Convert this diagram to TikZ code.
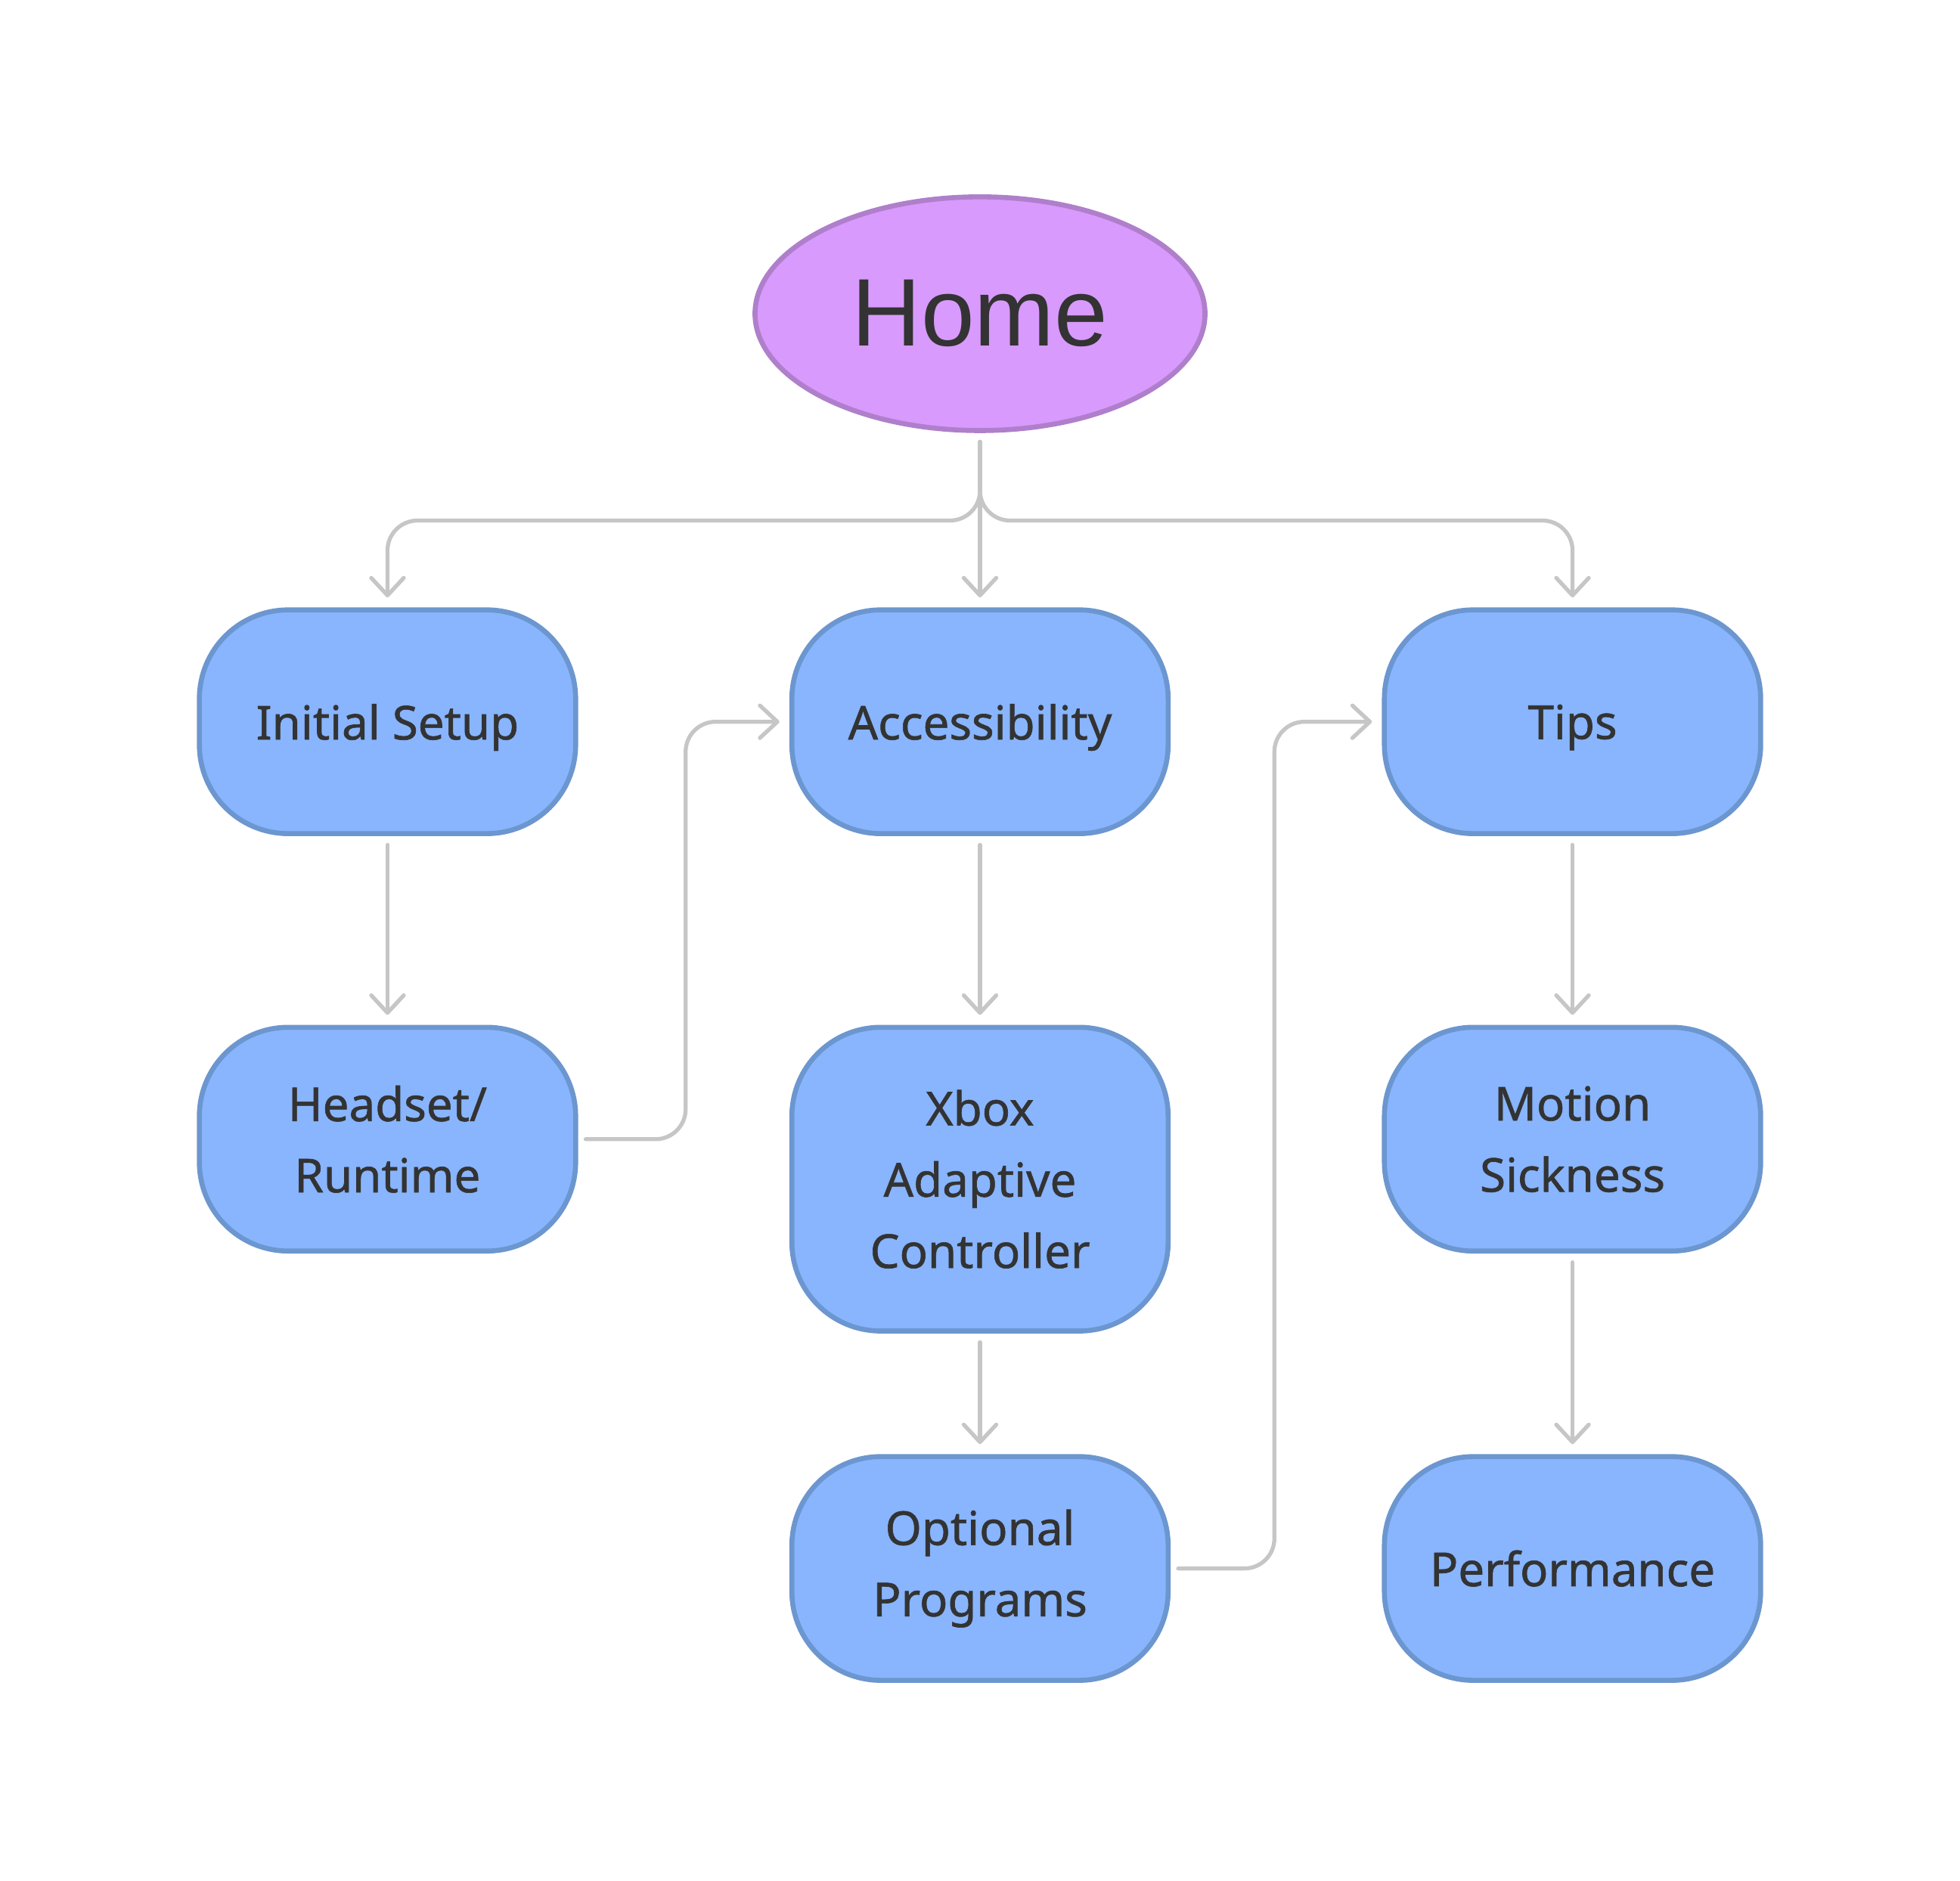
\documentclass[tikz,border=0pt]{standalone}
\usepackage{fontspec}
\setmainfont{Noto Sans}
\newfontfamily\boxfont{Noto Sans}[FakeBold=1]
\newfontfamily\homefont{Liberation Sans}
\usetikzlibrary{arrows.meta,shapes.geometric}
\definecolor{homefill}{RGB}{216,154,252}
\definecolor{homeline}{RGB}{175,127,203}
\definecolor{boxfill}{RGB}{136,181,253}
\definecolor{boxline}{RGB}{108,150,207}
\definecolor{connc}{RGB}{198,198,198}
\definecolor{txt}{RGB}{51,51,51}
\tikzset{
  pagebox/.style={draw=boxline, fill=boxfill, line width=2pt, rounded corners=35.5pt,
    minimum width=150.5pt, minimum height=89.5pt, inner sep=0pt, align=center,
    text=txt, font=\boxfont\fontsize{18.7pt}{28.5pt}\selectfont},
  onebox/.style={pagebox, text depth=0pt},
  tallbox/.style={pagebox, minimum height=121.5pt},
  homenode/.style={ellipse, draw=homeline, fill=homefill, line width=2pt,
    minimum width=180pt, minimum height=93.5pt, inner sep=0pt, text=txt,
    font=\homefont\fontsize{38.4pt}{40pt}\selectfont},
  conn/.style={draw=connc, line width=1.6pt, line cap=round,
    -{Straight Barb[length=7pt,width=13pt,round]}},
  elbow/.style={rounded corners=12pt}
}
\begin{document}
\begin{tikzpicture}[x=0.5pt,y=-0.5pt]
\useasboundingbox (0,0) rectangle (1568,1505);
\node[homenode] (home) at (784,251) {Home};
\node[onebox] (is) at (310,577.5) {Initial Setup};
\node[onebox] (acc) at (784,577.5) {Accessibility};
\node[onebox] (tips) at (1258,577.5) {Tips};
\node[pagebox] (hr) at (310,911.5) {Headset/\\Runtime};
\node[tallbox] (xac) at (784,943.5) {Xbox\\Adaptive\\Controller};
\node[pagebox] (ms) at (1258,911.5) {Motion\\Sickness};
\node[pagebox] (op) at (784,1255) {Optional\\Programs};
\node[pagebox] (perf) at (1258,1255) {Performance};
% from Home
\draw[conn,elbow] ([yshift=-3.5pt]home.south) -- ++(0,63) -| ([yshift=4pt]is.north);
\draw[conn] ([yshift=-3.5pt]home.south) -- ([yshift=4pt]acc.north);
\draw[conn,elbow] ([yshift=-3.5pt]home.south) -- ++(0,63) -| ([yshift=4pt]tips.north);
% verticals
\draw[conn] ([yshift=-3.5pt]is.south) -- ([yshift=4pt]hr.north);
\draw[conn] ([yshift=-3.5pt]acc.south) -- ([yshift=4pt]xac.north);
\draw[conn] ([yshift=-3.5pt]tips.south) -- ([yshift=4pt]ms.north);
\draw[conn] ([yshift=-3.5pt]xac.south) -- ([yshift=4pt]op.north);
\draw[conn] ([yshift=-3.5pt]ms.south) -- ([yshift=4pt]perf.north);
% cross links
\draw[conn,elbow] ([xshift=3pt]hr.east) -- ++(80,0) |- ([xshift=-4pt]acc.west);
\draw[conn,elbow] ([xshift=3pt]op.east) -- ++(77,0) |- ([xshift=-4pt]tips.west);
\end{tikzpicture}
\end{document}
